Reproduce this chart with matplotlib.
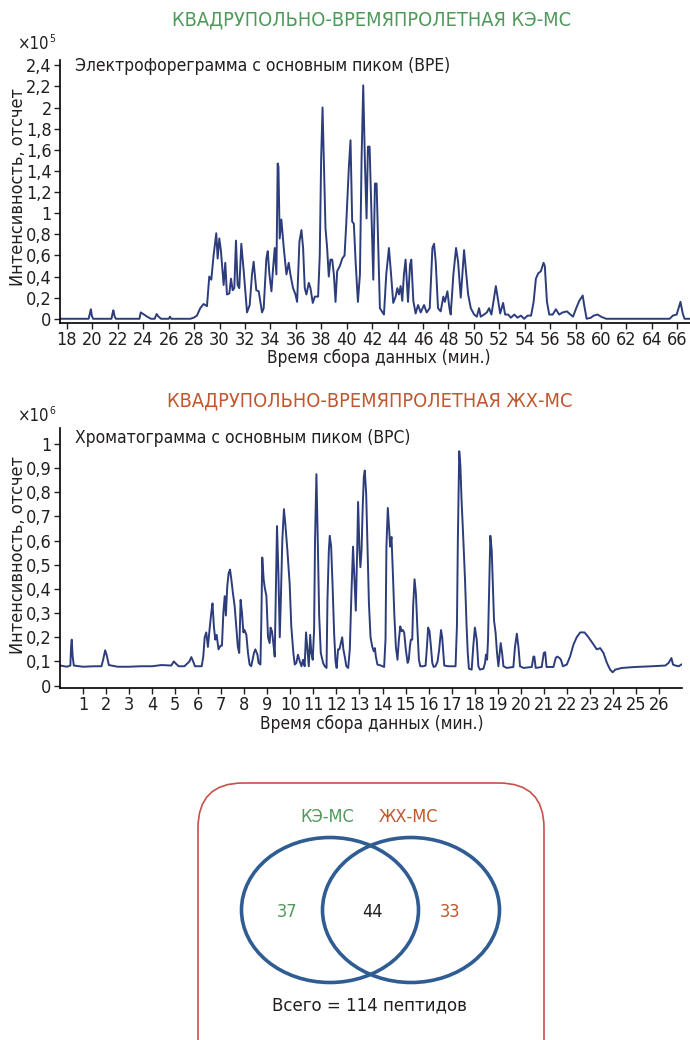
import matplotlib
matplotlib.use("Agg")
import matplotlib.pyplot as plt
from matplotlib.patches import Ellipse, FancyBboxPatch
from matplotlib.ticker import FuncFormatter

plt.rcParams['font.family'] = ['DejaVu Sans']
plt.rcParams['font.stretch'] = 'condensed'

# --- КЭ-МС, электрофореграмма (BPE), интенсивность x10^5 ---
ce_time = [
    17.45, 19.70, 19.80, 19.88, 19.95, 20.05, 21.50, 21.58, 21.65, 21.75,
    21.85, 23.70, 23.80, 24.00, 24.30, 24.60, 24.90, 25.05, 25.20, 25.40,
    26.00, 26.10, 26.20, 27.70, 27.96, 28.22, 28.48, 28.74, 29.01, 29.19,
    29.35, 29.53, 29.74, 29.85, 29.98, 30.11, 30.32, 30.45, 30.58, 30.77,
    30.90, 31.03, 31.16, 31.29, 31.42, 31.55, 31.71, 31.90, 32.16, 32.37,
    32.55, 32.68, 32.89, 33.08, 33.34, 33.47, 33.68, 33.79, 33.92, 34.08,
    34.21, 34.34, 34.47, 34.57, 34.63, 34.73, 34.86, 35.05, 35.26, 35.44,
    35.57, 35.78, 35.97, 36.10, 36.28, 36.44, 36.57, 36.70, 36.83, 37.02,
    37.15, 37.33, 37.49, 37.75, 37.88, 37.99, 38.10, 38.20, 38.33, 38.46,
    38.59, 38.72, 38.86, 38.99, 39.12, 39.25, 39.46, 39.65, 39.83, 39.96,
    40.17, 40.30, 40.43, 40.56, 40.70, 40.88, 41.04, 41.17, 41.30, 41.43,
    41.56, 41.67, 41.80, 41.93, 42.09, 42.22, 42.35, 42.48, 42.61, 42.93,
    43.11, 43.32, 43.45, 43.66, 43.85, 43.98, 44.11, 44.24, 44.37, 44.50,
    44.63, 44.82, 44.98, 45.08, 45.24, 45.42, 45.61, 45.82, 46.08, 46.29,
    46.53, 46.74, 46.87, 47.00, 47.18, 47.39, 47.60, 47.72, 47.92, 48.08,
    48.18, 48.39, 48.60, 48.76, 48.97, 49.10, 49.23, 49.36, 49.55, 49.76,
    50.02, 50.23, 50.41, 50.54, 50.80, 51.02, 51.20, 51.38, 51.54, 51.73,
    51.86, 52.07, 52.30, 52.46, 52.70, 52.91, 53.18, 53.43, 53.70, 53.96,
    54.23, 54.50, 54.70, 54.88, 55.06, 55.27, 55.48, 55.58, 55.75, 55.93,
    56.20, 56.45, 56.71, 56.98, 57.32, 57.60, 57.80, 58.05, 58.29, 58.56,
    58.69, 58.87, 59.21, 59.42, 59.74, 60.00, 60.40, 61.00, 65.40, 65.65,
    65.95, 66.25, 66.43, 66.57, 67.00,
]
ce_int = [
    0.00, 0.00, 0.05, 0.09, 0.03, 0.00, 0.00, 0.05, 0.08, 0.02,
    0.00, 0.00, 0.06, 0.045, 0.02, 0.00, 0.00, 0.045, 0.02, 0.00,
    0.00, 0.02, 0.00, 0.00, 0.01, 0.03, 0.10, 0.14, 0.12, 0.40,
    0.37, 0.60, 0.81, 0.57, 0.76, 0.64, 0.32, 0.53, 0.23, 0.24,
    0.38, 0.27, 0.29, 0.74, 0.32, 0.29, 0.71, 0.45, 0.06, 0.13,
    0.42, 0.54, 0.27, 0.26, 0.06, 0.10, 0.57, 0.64, 0.42, 0.26,
    0.48, 0.67, 0.42, 1.47, 1.44, 0.76, 0.94, 0.67, 0.42, 0.53,
    0.42, 0.29, 0.23, 0.16, 0.73, 0.84, 0.67, 0.29, 0.23, 0.34,
    0.29, 0.15, 0.21, 0.21, 0.60, 1.52, 2.00, 1.52, 0.86, 0.67,
    0.40, 0.56, 0.56, 0.42, 0.16, 0.45, 0.50, 0.57, 0.60, 0.89,
    1.44, 1.69, 0.92, 0.90, 0.54, 0.16, 0.42, 1.52, 2.21, 1.49,
    0.95, 1.63, 1.63, 1.05, 0.37, 1.28, 1.28, 0.70, 0.10, 0.04,
    0.42, 0.67, 0.48, 0.15, 0.21, 0.29, 0.23, 0.31, 0.17, 0.42,
    0.56, 0.16, 0.51, 0.56, 0.17, 0.05, 0.13, 0.06, 0.13, 0.06,
    0.10, 0.67, 0.71, 0.54, 0.10, 0.07, 0.21, 0.16, 0.26, 0.10,
    0.04, 0.42, 0.67, 0.54, 0.20, 0.42, 0.65, 0.48, 0.23, 0.10,
    0.04, 0.02, 0.10, 0.02, 0.04, 0.06, 0.10, 0.04, 0.16, 0.31,
    0.21, 0.05, 0.15, 0.04, 0.04, 0.01, 0.04, 0.01, 0.03, 0.00,
    0.03, 0.03, 0.16, 0.38, 0.43, 0.45, 0.53, 0.50, 0.16, 0.04,
    0.04, 0.09, 0.04, 0.06, 0.07, 0.04, 0.02, 0.10, 0.17, 0.22,
    0.12, 0.00, 0.01, 0.03, 0.04, 0.02, 0.00, 0.00, 0.00, 0.03,
    0.04, 0.16, 0.05, 0.00, 0.00,
]

# --- ЖХ-МС, хроматограмма (BPC), интенсивность x10^6 ---
lc_time = [
    0.02, 0.30, 0.45, 0.48, 0.51, 0.55, 0.60, 1.00, 1.50, 1.80,
    1.88, 1.96, 2.03, 2.12, 2.50, 3.00, 3.50, 4.00, 4.40, 4.83,
    4.94, 5.04, 5.15, 5.40, 5.62, 5.70, 5.78, 5.86, 6.15, 6.22,
    6.28, 6.35, 6.42, 6.49, 6.565, 6.62, 6.68, 6.74, 6.80, 6.88,
    6.97, 7.03, 7.09, 7.15, 7.20, 7.26, 7.32, 7.38, 7.43, 7.51,
    7.58, 7.65, 7.72, 7.78, 7.84, 7.90, 7.96, 8.01, 8.09, 8.16,
    8.23, 8.30, 8.42, 8.48, 8.57, 8.62, 8.70, 8.74, 8.78, 8.84,
    8.88, 8.96, 9.03, 9.10, 9.14, 9.20, 9.26, 9.32, 9.36, 9.42,
    9.48, 9.54, 9.59, 9.65, 9.72, 9.78, 9.87, 9.97, 10.04, 10.13,
    10.19, 10.26, 10.33, 10.41, 10.48, 10.55, 10.62, 10.68, 10.74, 10.80,
    10.86, 10.91, 10.97, 11.03, 11.07, 11.13, 11.19, 11.25, 11.32, 11.42,
    11.49, 11.57, 11.61, 11.67, 11.71, 11.77, 11.83, 11.90, 11.96, 12.01,
    12.07, 12.13, 12.19, 12.25, 12.30, 12.36, 12.43, 12.51, 12.58, 12.65,
    12.72, 12.80, 12.84, 12.90, 12.94, 13.00, 13.04, 13.09, 13.14, 13.19,
    13.23, 13.29, 13.35, 13.41, 13.48, 13.55, 13.62, 13.67, 13.71, 13.78,
    13.93, 14.07, 14.13, 14.17, 14.23, 14.29, 14.33, 14.39, 14.45, 14.51,
    14.58, 14.65, 14.71, 14.77, 14.83, 14.88, 14.94, 15.01, 15.09, 15.14,
    15.19, 15.23, 15.29, 15.33, 15.39, 15.45, 15.51, 15.58, 15.64, 15.77,
    15.87, 15.93, 15.98, 16.04, 16.10, 16.16, 16.22, 16.30, 16.39, 16.46,
    16.54, 16.59, 16.64, 16.68, 16.85, 17.17, 17.23, 17.27, 17.33, 17.38,
    17.43, 17.51, 17.58, 17.65, 17.70, 17.75, 17.87, 17.94, 18.01, 18.09,
    18.16, 18.23, 18.38, 18.45, 18.49, 18.54, 18.58, 18.64, 18.68, 18.74,
    18.78, 18.84, 18.91, 18.97, 19.03, 19.09, 19.13, 19.19, 19.25, 19.39,
    19.68, 19.75, 19.83, 19.90, 19.97, 20.12, 20.48, 20.55, 20.59, 20.65,
    20.91, 21.00, 21.06, 21.12, 21.42, 21.52, 21.59, 21.67, 21.74, 21.83,
    22.00, 22.14, 22.29, 22.43, 22.58, 22.77, 22.94, 23.16, 23.30, 23.45,
    23.59, 23.74, 23.88, 23.99, 24.10, 24.39, 24.97, 25.70, 26.28, 26.42,
    26.54, 26.61, 26.71, 26.86, 26.97,
]
lc_int = [
    0.083, 0.078, 0.083, 0.16, 0.19, 0.12, 0.083, 0.078, 0.08, 0.08,
    0.11, 0.146, 0.125, 0.085, 0.078, 0.078, 0.08, 0.08, 0.085, 0.083,
    0.10, 0.09, 0.08, 0.08, 0.10, 0.118, 0.10, 0.08, 0.08, 0.12,
    0.20, 0.22, 0.16, 0.23, 0.30, 0.34, 0.245, 0.19, 0.21, 0.15,
    0.165, 0.165, 0.30, 0.37, 0.29, 0.41, 0.465, 0.48, 0.445, 0.38,
    0.33, 0.245, 0.16, 0.135, 0.355, 0.30, 0.22, 0.23, 0.21, 0.135,
    0.087, 0.08, 0.135, 0.15, 0.128, 0.094, 0.087, 0.27, 0.53, 0.44,
    0.41, 0.37, 0.20, 0.176, 0.24, 0.225, 0.176, 0.12, 0.33, 0.66,
    0.465, 0.20, 0.37, 0.60, 0.73, 0.67, 0.56, 0.42, 0.245, 0.135,
    0.087, 0.094, 0.128, 0.10, 0.08, 0.107, 0.08, 0.22, 0.15, 0.08,
    0.21, 0.135, 0.107, 0.23, 0.60, 0.875, 0.60, 0.29, 0.135, 0.094,
    0.08, 0.073, 0.355, 0.56, 0.62, 0.575, 0.42, 0.215, 0.10, 0.073,
    0.15, 0.15, 0.176, 0.20, 0.15, 0.12, 0.08, 0.073, 0.15, 0.38,
    0.575, 0.40, 0.31, 0.56, 0.76, 0.56, 0.49, 0.56, 0.74, 0.865,
    0.89, 0.795, 0.575, 0.34, 0.20, 0.163, 0.142, 0.155, 0.12, 0.087,
    0.083, 0.077, 0.19, 0.575, 0.735, 0.645, 0.575, 0.615, 0.465, 0.30,
    0.16, 0.107, 0.19, 0.245, 0.225, 0.23, 0.22, 0.15, 0.094, 0.107,
    0.163, 0.19, 0.19, 0.33, 0.44, 0.38, 0.245, 0.107, 0.08, 0.08,
    0.083, 0.163, 0.24, 0.225, 0.163, 0.094, 0.077, 0.08, 0.10, 0.15,
    0.23, 0.20, 0.135, 0.083, 0.08, 0.08, 0.245, 0.60, 0.97, 0.91,
    0.77, 0.60, 0.44, 0.245, 0.135, 0.07, 0.066, 0.163, 0.24, 0.19,
    0.08, 0.066, 0.07, 0.094, 0.128, 0.107, 0.19, 0.44, 0.62, 0.56,
    0.44, 0.27, 0.217, 0.135, 0.08, 0.135, 0.176, 0.135, 0.08, 0.073,
    0.077, 0.16, 0.215, 0.16, 0.08, 0.073, 0.077, 0.12, 0.12, 0.073,
    0.077, 0.135, 0.138, 0.077, 0.077, 0.115, 0.12, 0.115, 0.108, 0.08,
    0.087, 0.12, 0.17, 0.20, 0.22, 0.22, 0.20, 0.17, 0.15, 0.155,
    0.135, 0.094, 0.066, 0.055, 0.066, 0.073, 0.077, 0.08, 0.083, 0.094,
    0.114, 0.087, 0.083, 0.08, 0.087,
]

# --- диаграмма Венна ---
venn_names = ["КЭ-МС", "ЖХ-МС"]
venn_counts = [37, 44, 33]   # только КЭ, общие, только ЖХ

GREEN = "#4f9a5b"
ORANGE = "#c0582f"
LINE = "#2d3d7c"
TXT = "#231f20"

W, H = 690, 1040
fig = plt.figure(figsize=(W / 100, H / 100), dpi=100)


def fx(px):
    return px / W


def fy(py):
    return 1 - py / H


def fmt_comma(v, pos):
    return f"{v:g}".replace(".", ",")


def style_axes(ax):
    for s in ["top", "right"]:
        ax.spines[s].set_visible(False)
    for s in ["left", "bottom"]:
        ax.spines[s].set_linewidth(1.2)
        ax.spines[s].set_color("black")
    ax.tick_params(axis="both", labelsize=13, colors=TXT, length=4, width=1, pad=2)
    ax.yaxis.set_major_formatter(FuncFormatter(fmt_comma))


# верхний график
ax1 = fig.add_axes([fx(60), fy(323), fx(690) - fx(60), fy(60) - fy(323)])
ax1.plot(ce_time, ce_int, color=LINE, lw=1.4)
ax1.set_xlim(17.45, 67.0)
ax1.set_ylim(-0.04, 2.45)
ax1.set_xticks(range(18, 67, 2))
ax1.set_yticks([0, 0.2, 0.4, 0.6, 0.8, 1, 1.2, 1.4, 1.6, 1.8, 2, 2.2, 2.4])
style_axes(ax1)

# нижний график
ax2 = fig.add_axes([fx(60), fy(688), fx(682) - fx(60), fy(428) - fy(688)])
ax2.plot(lc_time, lc_int, color=LINE, lw=1.4)
ax2.set_xlim(0, 27.0)
ax2.set_ylim(-0.01, 1.066)
ax2.set_xticks(range(1, 27))
ax2.set_yticks([0, 0.1, 0.2, 0.3, 0.4, 0.5, 0.6, 0.7, 0.8, 0.9, 1])
style_axes(ax2)

# подписи
fig.text(fx(372), fy(20), "КВАДРУПОЛЬНО-ВРЕМЯПРОЛЕТНАЯ КЭ-МС", color=GREEN,
         fontsize=14.3, ha="center", va="center")
fig.text(fx(370), fy(401), "КВАДРУПОЛЬНО-ВРЕМЯПРОЛЕТНАЯ ЖХ-МС", color=ORANGE,
         fontsize=14.3, ha="center", va="center")

for ytxt, exp in [(44, "5"), (416, "6")]:
    fig.text(fx(49), fy(ytxt), "×10", color=TXT, fontsize=12, ha="right", va="center")
    fig.text(fx(49.5), fy(ytxt - 5), exp, color=TXT, fontsize=7.5, ha="left", va="center")

fig.text(fx(75), fy(66), "Электрофореграмма с основным пиком (BPE)", color=TXT,
         fontsize=12.5, ha="left", va="center")
fig.text(fx(75), fy(438), "Хроматограмма с основным пиком (BPC)", color=TXT,
         fontsize=12.5, ha="left", va="center")

for yc in [187, 555]:
    fig.text(fx(18), fy(yc), "Интенсивность, отсчет", color=TXT, fontsize=13,
             rotation=90, ha="center", va="center")
fig.text(fx(379), fy(358), "Время сбора данных (мин.)", color=TXT, fontsize=12.4,
         ha="center", va="center")
fig.text(fx(372), fy(724), "Время сбора данных (мин.)", color=TXT, fontsize=12.4,
         ha="center", va="center")

# Венн
ax3 = fig.add_axes([0, 0, 1, 1], zorder=-1)
ax3.set_xlim(0, W)
ax3.set_ylim(H, 0)
ax3.axis("off")
box = FancyBboxPatch((198, 783), 346, 320, boxstyle="round,pad=0,rounding_size=45",
                     fill=False, ec="#c8504a", lw=1.2)
ax3.add_patch(box)
for cx in [330, 411]:
    ax3.add_patch(Ellipse((cx, 910), 177, 145, fill=False, ec="#2f5d93", lw=2.6))

ax3.text(327, 817, venn_names[0], color=GREEN, fontsize=13, ha="center", va="center")
ax3.text(408, 817, venn_names[1], color=ORANGE, fontsize=13, ha="center", va="center")
ax3.text(287, 912, str(venn_counts[0]), color=GREEN, fontsize=13, ha="center", va="center")
ax3.text(372, 912, str(venn_counts[1]), color=TXT, fontsize=13, ha="center", va="center")
ax3.text(450, 912, str(venn_counts[2]), color=ORANGE, fontsize=13, ha="center", va="center")
ax3.text(370, 1005, f"Всего = {sum(venn_counts)} пептидов", color=TXT,
         fontsize=13.3, ha="center", va="center")

fig.savefig("out.png", dpi=100)
